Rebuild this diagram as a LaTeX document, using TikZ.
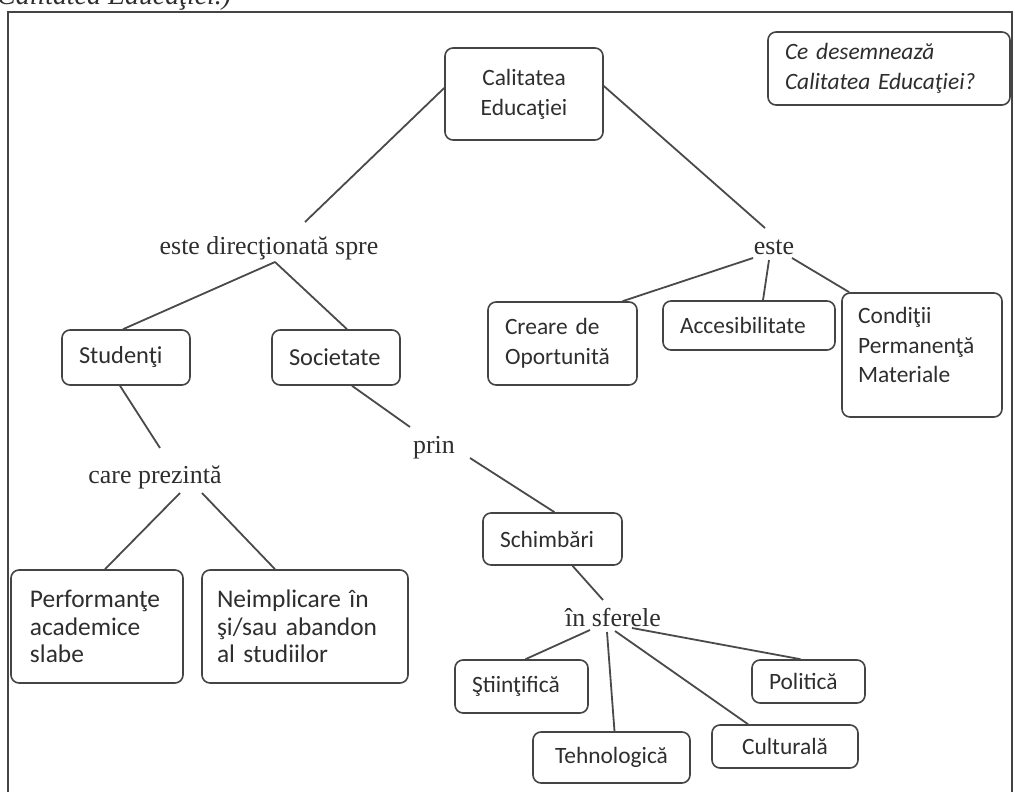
\documentclass[tikz,border=0pt]{standalone}
\usepackage{fontspec}
\setmainfont{Carlito}
\newfontfamily\labelfont{Liberation Serif}
\definecolor{linegray}{HTML}{4A4A4A}
\definecolor{boxgray}{HTML}{444444}
\definecolor{txtgray}{HTML}{2E2E2E}
\begin{document}
\begin{tikzpicture}[x=1bp,y=-1bp,
  box/.style={draw=boxgray, line width=1.6bp, rounded corners=8bp,
    inner xsep=17bp, inner ysep=0bp, align=left, text=txtgray,
    font=\fontsize{23.5}{30}\selectfont},
  bigbox/.style={box, font=\fontsize{25.5}{27.5}\selectfont},
  lbl/.style={font=\labelfont\fontsize{26}{30}\selectfont, text=txtgray, inner sep=0bp},
  link/.style={draw=linegray, line width=1.8bp}]
\useasboundingbox (0,0) rectangle (1015,792);
\clip (0,0) rectangle (1015,792);
\fill[white] (0,0) rectangle (1015,792);

% heading cut by the page edge, and the frame
\node[anchor=base west, inner sep=0pt, text=txtgray,
  font=\labelfont\itshape\fontsize{28}{32}\selectfont] (title) at (-3,5) {Calitatea Educaţiei.)};
\draw[draw=boxgray, line width=1.8bp] (8,830) -- (8,12) -- (1012,12) -- (1012,830);

% boxes
\node[box, align=center, text width=124bp, minimum height=92bp] (cal) at (524,94) {Calitatea\\Educaţiei};
\node[box, text width=208bp, minimum height=73bp, font=\fontsize{23.5}{30}\selectfont\itshape] (ce) at (889,68.5) {Ce desemnează\\Calitatea Educaţiei?};
\node[box, text width=94bp, minimum height=55bp, font=\fontsize{24.5}{30}\selectfont] (stu) at (126,357.5) {Studenţi};
\node[box, text width=94bp, minimum height=55bp, font=\fontsize{24.5}{30}\selectfont] (soc) at (336,357.5) {Societate};
\node[box, text width=115bp, minimum height=83bp] (cre) at (562.5,343.5) {Creare de\\Oportunită};
\node[box, text width=138bp, minimum height=49bp] (acc) at (749,325.5) {Accesibilitate};
\node[box, minimum width=160bp, minimum height=124bp] (cond) at (922,355) {};
\node[anchor=west, inner sep=0pt, align=left, text=txtgray,
  font=\fontsize{23.5}{30}\selectfont] (condtxt) at (858,345) {Condiţii\\Permanenţă\\Materiale};
\node[bigbox, inner xsep=19bp, text width=134bp, minimum height=113bp] (perf) at (97,626.5) {Performanţe\\academice\\slabe};
\node[bigbox, inner xsep=15bp, text width=176bp, minimum height=113bp] (neim) at (305,626.5) {Neimplicare în\\şi/sau abandon\\al studiilor};
\node[box, text width=105bp, minimum height=52bp] (sch) at (552.5,539) {Schimbări};
\node[box, text width=99bp, minimum height=53bp] (sti) at (521.5,686.5) {Ştiinţifică};
\node[box, align=center, text width=123bp, minimum height=51bp] (teh) at (611.5,757.5) {Tehnologică};
\node[box, align=center, text width=112bp, minimum height=43bp] (cul) at (785,746.5) {Culturală};
\node[box, text width=79bp, minimum height=43bp] (pol) at (808.5,681.5) {Politică};

% connecting phrases
\node[lbl] (edr) at (269,248) {este direcţionată spre};
\node[lbl] (este) at (774,247) {este};
\node[lbl] (prin) at (434,448) {prin};
\node[lbl] (care) at (155,477) {care prezintă};
\node[lbl] (sf) at (613,618) {în sferele};

% connectors
\draw[link] ([yshift=6bp]cal.west) -- ([shift={(36,-26)}]edr.center);
\draw[link] ([yshift=8bp]cal.east) -- ([shift={(-9,-19)}]este.center);
\draw[link] ([shift={(6,14)}]edr.center) -- ([xshift=-3bp]stu.north);
\draw[link] ([shift={(6,14)}]edr.center) -- ([xshift=11bp]soc.north);
\draw[link] ([shift={(-21,11)}]este.center) -- ([xshift=60bp]cre.north);
\draw[link] ([shift={(-5,13)}]este.center) -- ([xshift=14bp]acc.north);
\draw[link] ([shift={(18,11)}]este.center) -- ([xshift=8bp]cond.north west);
\draw[link] ([xshift=-6bp]stu.south) -- ([shift={(5,-29)}]care.center);
\draw[link] ([xshift=16bp]soc.south) -- ([shift={(-24,-21)}]prin.center);
\draw[link] ([shift={(36,10)}]prin.center) -- ([xshift=2bp]sch.north);
\draw[link] ([shift={(25,16)}]care.center) -- ([xshift=8bp]perf.north);
\draw[link] ([shift={(47,16)}]care.center) -- ([xshift=-30bp]neim.north);
\draw[link] ([xshift=20bp]sch.south) -- ([shift={(-10,-18)}]sf.center);
\draw[link] ([shift={(-23,12)}]sf.center) -- ([xshift=4bp]sti.north);
\draw[link] ([shift={(-6,14)}]sf.center) -- ([xshift=3bp]teh.north);
\draw[link] ([shift={(2,13)}]sf.center) -- ([xshift=-37bp]cul.north);
\draw[link] ([shift={(19,10)}]sf.center) -- ([xshift=-8bp]pol.north);
\end{tikzpicture}
\end{document}
